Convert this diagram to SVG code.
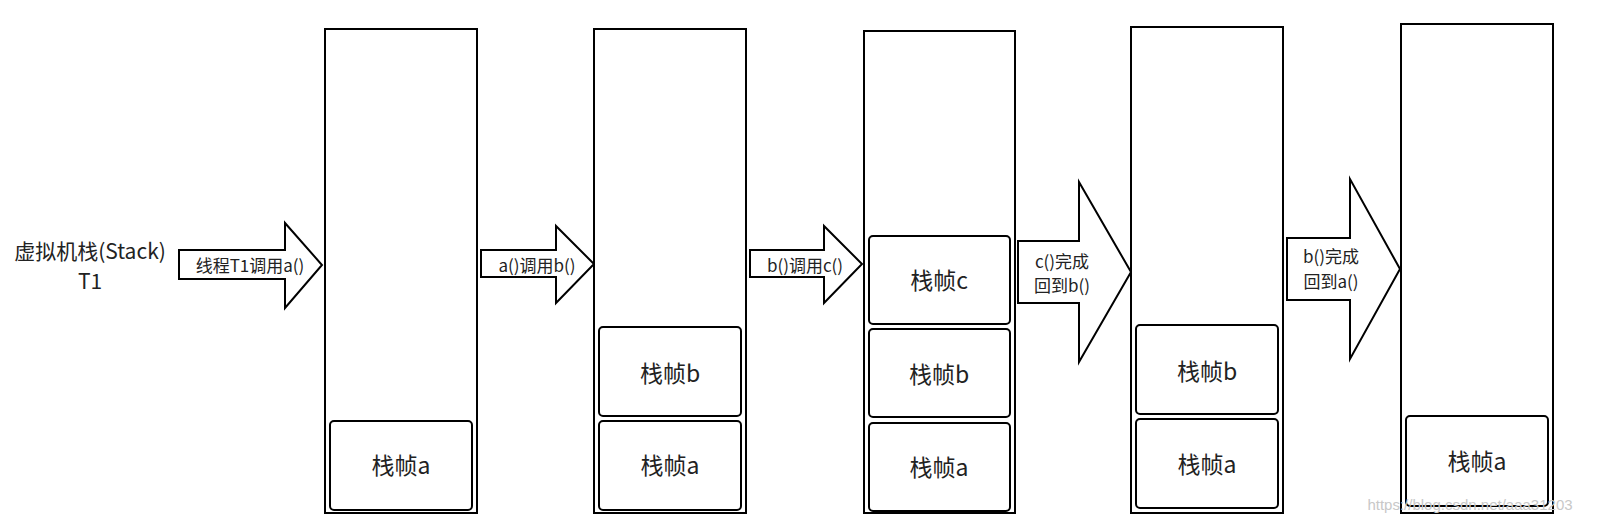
<svg xmlns="http://www.w3.org/2000/svg" width="1605" height="532" viewBox="0 0 1605 532">
<style>
.st{fill:#fff;stroke:#000;stroke-width:2}
.fr{fill:#fff;stroke:#000;stroke-width:2}
.ar{fill:#fff;stroke:#000;stroke-width:2;stroke-linejoin:miter}
text{font-family:"Noto Sans CJK SC","Microsoft YaHei",sans-serif;fill:#222;text-anchor:middle}
.big{font-size:23px}
.sm{font-size:17px}
</style>
<rect width="1605" height="532" fill="#fff"/>
<g id="title"><text x="90" y="259" font-size="21">虚拟机栈(Stack)</text><text x="90" y="289" font-size="21">T1</text></g>
<g id="connectors">
<path class="ar" d="M179,250H285V223L322,265L285,308V279H179Z"/>
<path class="ar" d="M481,250H556V226L594,264L556,303V277H481Z"/>
<path class="ar" d="M750,250H824V226L862,264L824,303V277H750Z"/>
<path class="ar" d="M1018,241H1079V182L1131,272L1079,362V303H1018Z"/>
<path class="ar" d="M1287,238H1350V179L1400,269L1350,359V300H1287Z"/>
<text class="sm" x="250" y="272">线程T1调用a()</text>
<text class="sm" x="537" y="272">a()调用b()</text>
<text class="sm" x="805" y="272">b()调用c()</text>
<text class="sm" x="1062" y="268">c()完成</text><text class="sm" x="1062" y="292">回到b()</text>
<text class="sm" x="1331" y="263">b()完成</text><text class="sm" x="1331" y="288">回到a()</text>
</g>
<g id="stack1"><rect class="st" x="325" y="29" width="152" height="484"/>
<g id="s1a"><rect class="fr" x="330" y="421" width="142" height="89" rx="4"/><text class="big" x="401" y="474">栈帧a</text></g></g>
<g id="stack2"><rect class="st" x="594" y="29" width="152" height="484"/>
<g id="s2b"><rect class="fr" x="599" y="327" width="142" height="89" rx="4"/><text class="big" x="670" y="382">栈帧b</text></g>
<g id="s2a"><rect class="fr" x="599" y="421" width="142" height="89" rx="4"/><text class="big" x="670" y="474">栈帧a</text></g></g>
<g id="stack3"><rect class="st" x="864" y="31" width="151" height="482"/>
<g id="s3c"><rect class="fr" x="869" y="236" width="141" height="88" rx="4"/><text class="big" x="939" y="289">栈帧c</text></g>
<g id="s3b"><rect class="fr" x="869" y="329" width="141" height="88" rx="4"/><text class="big" x="939" y="383">栈帧b</text></g>
<g id="s3a"><rect class="fr" x="869" y="423" width="141" height="88" rx="4"/><text class="big" x="939" y="476">栈帧a</text></g></g>
<g id="stack4"><rect class="st" x="1131" y="27" width="152" height="486"/>
<g id="s4b"><rect class="fr" x="1136" y="325" width="142" height="89" rx="4"/><text class="big" x="1207" y="380">栈帧b</text></g>
<g id="s4a"><rect class="fr" x="1136" y="419" width="142" height="89" rx="4"/><text class="big" x="1207" y="473">栈帧a</text></g></g>
<g id="stack5"><rect class="st" x="1401" y="24" width="152" height="489"/>
<g id="s5a"><rect class="fr" x="1406" y="416" width="142" height="90" rx="4"/><text class="big" x="1477" y="470">栈帧a</text></g></g>
<text x="1470" y="510" font-size="15" style="fill:#c8c8c8;font-family:'Liberation Sans',sans-serif">https://blog.csdn.net/aaa31203</text>
</svg>
